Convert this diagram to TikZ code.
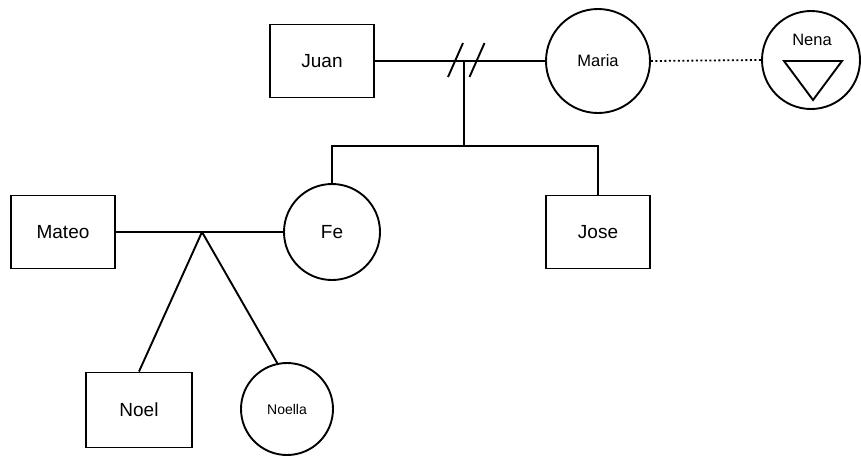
\documentclass[tikz,border=0pt]{standalone}
\usepackage{fontspec}
\setmainfont{Liberation Sans}
\begin{document}
\begin{tikzpicture}[x=1pt,y=-1pt,line width=1.9pt,
  male/.style={draw,rectangle,minimum width=104pt,minimum height=73pt,inner sep=0pt,
    font=\fontsize{19}{22}\selectfont},
  female/.style={draw,circle,inner sep=0pt,font=\fontsize{19}{22}\selectfont},
  dotline/.style={dash pattern=on 2pt off 2.5pt,line width=1.8pt}]
\useasboundingbox (0,0) rectangle (861,459);

% people
\node[male] (juan) at (322,61) {Juan};
\node[female,minimum size=104pt,font=\fontsize{16.5}{20}\selectfont] (maria) at (598,61) {Maria};
\node[female,minimum size=98pt] (nena) at (811,60) {};
\node[female,minimum size=96pt] (fe) at (332,232) {Fe};
\node[male] (jose) at (598,232) {Jose};
\node[male] (mateo) at (63,232) {Mateo};
\node[male,minimum width=106pt,minimum height=75pt] (noel) at (139,410) {Noel};
\node[female,minimum size=92pt,font=\fontsize{14}{17}\selectfont] (noella) at (287,409) {Noella};

% Nena: label and inverted triangle
\node[font=\fontsize{16.5}{19}\selectfont,inner sep=0pt] (nenalabel) at (812,40) {Nena};
\draw[line join=miter] (784,61) -- (842,61) -- (813,100) -- cycle;

% Juan -- Maria, divorced
\coordinate (mj) at (464,61);
\coordinate (d1) at (455.5,60);
\coordinate (d2) at (477,60);
\draw (juan.east) -- (maria.west);
\draw ([shift={(-7.5,17)}]d1) -- ([shift={(7.5,-17)}]d1);
\draw ([shift={(-7.5,17)}]d2) -- ([shift={(7.5,-17)}]d2);

% children of Juan and Maria
\coordinate (sib) at (464,146);
\draw (mj) -- (sib);
\draw (fe.north) |- (sib) -| (jose.north);

% Maria .... Nena
\draw[dotline] (maria.east) -- (nena.west);

% Mateo -- Fe and their children
\coordinate (cj) at (202,232);
\draw (mateo.east) -- (fe.west);
\draw (cj) -- (noel.north);
\draw (cj) -- (noella.102);
\end{tikzpicture}
\end{document}
